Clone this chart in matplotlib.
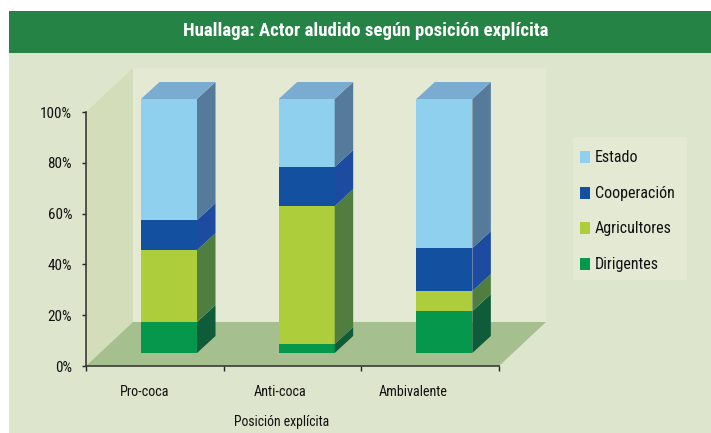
import matplotlib
matplotlib.use("Agg")
import matplotlib.pyplot as plt
from matplotlib.patches import Polygon, Rectangle

categories = ["Pro-coca", "Anti-coca", "Ambivalente"]
series = ["Dirigentes", "Agricultores", "Cooperación", "Estado"]
dirigentes = [12.2, 3.5, 16.5]
agricultores = [28.3, 54.3, 7.9]
cooperacion = [11.8, 15.4, 16.9]
estado = [47.7, 26.8, 58.7]
yticks = [0, 20, 40, 60, 80, 100]

front_colors = ["#05984c", "#aecd3a", "#1450a0", "#8fd0ef"]
side_colors = ["#0e5c3a", "#507d40", "#1c4ba0", "#557a9a"]
top_color = "#7aabd0"

W, H = 711, 433
plt.rcParams["font.family"] = ["Roboto Condensed", "Archivo Narrow", "PT Sans Narrow", "Liberation Sans", "DejaVu Sans"]

fig = plt.figure(figsize=(W / 100, H / 100), dpi=100, facecolor="white")


def px_rect(x0, y0, x1, y1, z=-1, **kw):
    """Rectangle on the figure, given in image pixels (y down)."""
    fig.add_artist(Rectangle((x0 / W, 1 - y1 / H), (x1 - x0) / W, (y1 - y0) / H,
                             transform=fig.transFigure, lw=0, zorder=z, **kw))


px_rect(9, 53, W, H, color="#dde5cd")
px_rect(9, 11, W, 53, color="#248345")
fig.text(366 / W, 1 - 31 / H, "Huallaga: Actor aludido según posición explícita",
         color="white", fontsize=13.6, fontweight="bold", ha="center", va="center")

# axes cover the front plane of the 3d box: 86..499 px, 0% at 366, 100% at 112
ax = fig.add_axes([86 / W, 1 - 366 / H, (499 - 86) / W, (366 - 112) / H])
ax.patch.set_visible(False)
ax.set_xlim(0, 3)
ax.set_ylim(0, 100)

PX_X = 3 / (499 - 86)
PX_Y = 100 / (366 - 112)
wall_dx, wall_dy = 47 * PX_X, 44 * PX_Y
side_dx, side_dy = 18.5 * PX_X, 17 * PX_Y
bar_lift = 13 * PX_Y
bar_width = 56 * PX_X
bar_shift = 0.603


def poly(points, color, z):
    ax.add_patch(Polygon(points, closed=True, color=color, lw=0, zorder=z, clip_on=False))


# box walls and floor
poly([(wall_dx, wall_dy), (3 + wall_dx, wall_dy), (3 + wall_dx, 100 + wall_dy), (wall_dx, 100 + wall_dy)], "#e4e9d4", 1)
poly([(0, 0), (wall_dx, wall_dy), (wall_dx, 100 + wall_dy), (0, 100)], "#d3ddb9", 1)
poly([(0, 0), (3, 0), (3 + wall_dx, wall_dy), (wall_dx, wall_dy)], "#a5bf8f", 1)

# stacked bars, back faces first so the front of each stack stays on top
stacks = [dirigentes, agricultores, cooperacion, estado]
xs = [i + bar_shift for i in range(len(categories))]
bottoms = [bar_lift] * len(categories)
for vals, front, side in zip(stacks, front_colors, side_colors):
    ax.bar(xs, vals, bar_width, bottom=bottoms, color=front, lw=0, zorder=3, clip_on=False)
    for x, b, v in zip(xs, bottoms, vals):
        r = x + bar_width / 2
        poly([(r, b), (r + side_dx, b + side_dy), (r + side_dx, b + v + side_dy), (r, b + v)], side, 3)
    bottoms = [b + v for b, v in zip(bottoms, vals)]

for x, t in zip(xs, bottoms):
    l, r = x - bar_width / 2, x + bar_width / 2
    poly([(l, t), (r, t), (r + side_dx, t + side_dy), (l + side_dx, t + side_dy)], top_color, 3)

# axes
for s in ("top", "right"):
    ax.spines[s].set_visible(False)
for s in ("left", "bottom"):
    ax.spines[s].set_color("#3a3a34")
    ax.spines[s].set_linewidth(1.2)
    ax.spines[s].set_zorder(4)
ax.set_yticks(yticks)
ax.set_yticklabels([f"{v}%" for v in yticks], fontsize=10.9, color="#111111")
ax.set_xticks([0, 1, 2, 3])
ax.set_xticklabels([])
ax.tick_params(axis="y", length=3, width=1, color="#222222", pad=7)
ax.tick_params(axis="x", length=3.6, width=1, color="#222222")

# category labels sit left of the tick-interval centres in the original
for x_px, name in zip([145, 280, 413], categories):
    fig.text(x_px / W, 1 - 392 / H, name, fontsize=10.2, color="#111111", ha="center", va="center")
fig.text(282 / W, 1 - 422 / H, "Posición explícita", fontsize=9.9, color="#111111", ha="center", va="center")

# legend
px_rect(573, 137, 687, 280, z=1, color="#e4e9d4")
for y_px, name, color in zip([157, 193, 228, 264], series[::-1], front_colors[::-1]):
    px_rect(580, y_px - 6, 590, y_px + 6, z=2, color=color)
    fig.text(595 / W, 1 - y_px / H, name, fontsize=11.5, color="#111111", ha="left", va="center")

fig.savefig("out.png", dpi=100)
